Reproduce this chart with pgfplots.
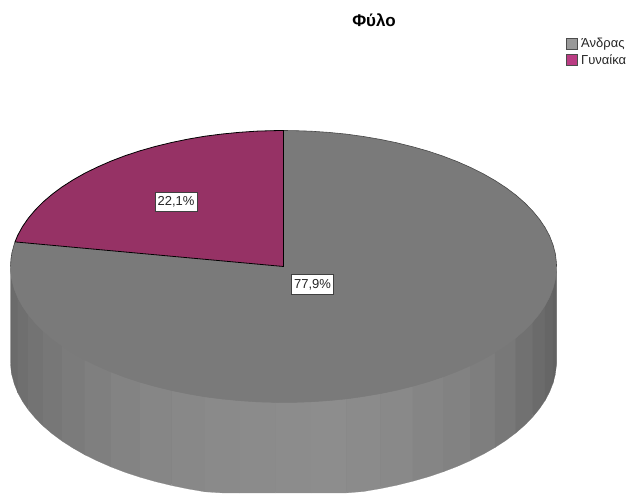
\documentclass[border=0pt]{standalone}
\usepackage{pgfplots}
\pgfplotsset{compat=1.18}
\usepackage{fontspec}
\setmainfont{Liberation Sans}

% one facet of the pie's outer wall:
% grey level; x, top y, bottom y at the left end; x, bottom y at the middle; x, top y, bottom y at the right end
\newcommand{\facet}[9]{%
  \definecolor{wall#1}{RGB}{#1,#1,#1}%
  \addplot[fill=wall#1,draw=wall#1,line width=0.2pt] coordinates {(#2,#3)(#7,#8)(#7,#9)(#5,#6)(#2,#4)} --cycle;%
}

\definecolor{topgrey}{RGB}{122,122,122}
\definecolor{slicepurple}{RGB}{150,50,101}
\definecolor{keygrey}{RGB}{153,153,153}
\definecolor{keypurple}{RGB}{186,60,131}
\definecolor{wallbase}{RGB}{125,125,125}

\begin{document}
\begin{tikzpicture}
\begin{axis}[
  scale only axis,
  width=628pt,
  height=493pt,
  xmin=0.5, xmax=628.5,
  ymin=0, ymax=493,
  y dir=reverse,
  hide axis,
  clip=false,
]
% page extent
\addplot[draw=none,fill=white] coordinates {(0.5,0)(628.5,0)(628.5,493)(0.5,493)} --cycle;

% solid backing under the wall facets
\addplot[fill=wallbase,draw=none] coordinates {
  (12,266.5)(556,266.5)(556,361.5)(554.8,374.4)(549.1,391)(538.8,408)(524.2,424.2)
  (505.4,439.4)(482.8,453.2)(456.8,465.4)(427.9,475.8)(396.4,484.2)(364,490.5)
  (353,492)(215,492)(188.6,487.9)(156,480.6)(126.6,471.3)(99,460)(74.5,447.1)
  (53.6,432.7)(36.7,417)(24,400.4)(15.8,383.1)(12.4,367.5)(12,361.5)
} --cycle;

% outer wall, left to right
\facet{104}{11.0}{266.5}{361.5}{11.4}{368.5}{12.4}{280.2}{375.2}
\facet{107}{12.4}{280.2}{375.2}{14.8}{384.1}{18.3}{297.8}{392.8}
\facet{111}{18.3}{297.8}{392.8}{23.0}{401.4}{28.8}{314.8}{409.8}
\facet{115}{28.8}{314.8}{409.8}{35.7}{418.0}{43.6}{331.0}{426.0}
\facet{119}{43.6}{331.0}{426.0}{52.6}{433.7}{62.6}{346.1}{441.1}
\facet{123}{62.6}{346.1}{441.1}{73.5}{448.1}{85.3}{359.8}{454.8}
\facet{127}{85.3}{359.8}{454.8}{98.0}{461.0}{111.5}{371.9}{466.9}
\facet{131}{111.5}{371.9}{466.9}{125.6}{472.3}{140.5}{382.2}{477.2}
\facet{134}{140.5}{382.2}{477.2}{156.0}{481.6}{172.1}{390.5}{485.5}
\facet{136}{172.1}{390.5}{485.5}{188.6}{488.9}{205.5}{396.8}{491.8}
\facet{138}{205.5}{396.8}{491.8}{222.8}{492.9}{240.3}{400.7}{492.9}
\facet{139}{240.3}{400.7}{492.9}{258.1}{492.9}{275.9}{402.4}{492.9}
\facet{140}{275.9}{402.4}{492.9}{293.8}{492.9}{311.6}{401.8}{492.9}
\facet{141}{311.6}{401.8}{492.9}{329.3}{492.9}{346.8}{398.9}{492.9}
\facet{139}{346.8}{398.9}{492.9}{364.0}{491.5}{380.9}{393.6}{488.6}
\facet{137}{380.9}{393.6}{488.6}{397.4}{485.2}{413.4}{386.2}{481.2}
\facet{133}{413.4}{386.2}{481.2}{428.9}{476.8}{443.7}{376.8}{471.8}
\facet{130}{443.7}{376.8}{471.8}{457.8}{466.4}{471.2}{365.5}{460.5}
\facet{126}{471.2}{365.5}{460.5}{483.8}{454.2}{495.5}{352.5}{447.5}
\facet{120}{495.5}{352.5}{447.5}{506.4}{440.4}{516.3}{338.0}{433.0}
\facet{113}{516.3}{338.0}{433.0}{525.2}{425.2}{533.0}{322.2}{417.2}
\facet{107}{533.0}{322.2}{417.2}{539.8}{409.0}{545.5}{305.6}{400.6}
\facet{102}{545.5}{305.6}{400.6}{550.1}{392.0}{553.5}{288.2}{383.2}
\facet{98}{553.5}{288.2}{383.2}{555.8}{374.4}{556.9}{270.5}{365.5}
\facet{96}{556.9}{270.5}{365.5}{557.0}{363.5}{557.0}{266.5}{361.5}

% Ανδρας slice, 77.9 %
\addplot[fill=topgrey,draw=none] coordinates {
  (284,266.5)(284,130.5)(293.8,130.6)(311.6,131.2)(329.3,132.4)(346.8,134.1)(364,136.5)
  (380.9,139.4)(397.4,142.8)(413.4,146.8)(428.9,151.2)(443.7,156.2)(457.8,161.6)
  (471.2,167.5)(483.8,173.8)(495.5,180.5)(506.4,187.6)(516.3,195)(525.2,202.8)
  (533,210.8)(539.8,219)(545.5,227.4)(550.1,236)(553.5,244.8)(555.8,253.6)(556.9,262.5)
  (557,266.5)(556.9,270.5)(555.8,279.4)(553.5,288.2)(550.1,297)(545.5,305.6)(539.8,314)
  (533,322.2)(525.2,330.2)(516.3,338)(506.4,345.4)(495.5,352.5)(483.8,359.2)(471.2,365.5)
  (457.8,371.4)(443.7,376.8)(428.9,381.8)(413.4,386.2)(397.4,390.2)(380.9,393.6)(364,396.5)
  (346.8,398.9)(329.3,400.6)(311.6,401.8)(293.8,402.4)(275.9,402.4)(258.1,401.9)(240.3,400.7)
  (222.8,399)(205.5,396.8)(188.6,393.9)(172.1,390.5)(156,386.6)(140.5,382.2)(125.6,377.3)
  (111.5,371.9)(98,366)(85.3,359.8)(73.5,353.1)(62.6,346.1)(52.6,338.7)(43.6,331)(35.7,323)
  (28.8,314.8)(23,306.4)(18.3,297.8)(14.8,289.1)(12.4,280.2)(11.4,273.5)(11,266.5)
  (11.4,259.5)(12.4,252.8)(14.8,243.9)(15.5,241.9)
} --cycle;

% lower rim, where the top meets the wall
\addplot[color=black!52,line width=0.4pt] coordinates {
  (557,266.5)(556.9,270.5)(555.8,279.4)(553.5,288.2)(550.1,297)(545.5,305.6)(539.8,314)
  (533,322.2)(525.2,330.2)(516.3,338)(506.4,345.4)(495.5,352.5)(483.8,359.2)(471.2,365.5)
  (457.8,371.4)(443.7,376.8)(428.9,381.8)(413.4,386.2)(397.4,390.2)(380.9,393.6)(364,396.5)
  (346.8,398.9)(329.3,400.6)(311.6,401.8)(293.8,402.4)(275.9,402.4)(258.1,401.9)(240.3,400.7)
  (222.8,399)(205.5,396.8)(188.6,393.9)(172.1,390.5)(156,386.6)(140.5,382.2)(125.6,377.3)
  (111.5,371.9)(98,366)(85.3,359.8)(73.5,353.1)(62.6,346.1)(52.6,338.7)(43.6,331)(35.7,323)
  (28.8,314.8)(23,306.4)(18.3,297.8)(14.8,289.1)(12.4,280.2)(11.4,273.5)(11,266.5)
};
% upper rim of the grey slice
\addplot[color=black!72,line width=0.6pt,line join=round] coordinates {
  (284,130.5)(293.8,130.6)(311.6,131.2)(329.3,132.4)(346.8,134.1)(364,136.5)
  (380.9,139.4)(397.4,142.8)(413.4,146.8)(428.9,151.2)(443.7,156.2)(457.8,161.6)
  (471.2,167.5)(483.8,173.8)(495.5,180.5)(506.4,187.6)(516.3,195)(525.2,202.8)
  (533,210.8)(539.8,219)(545.5,227.4)(550.1,236)(553.5,244.8)(555.8,253.6)(556.9,262.5)
  (557,266.5)
};
\addplot[color=black!72,line width=0.6pt,line join=round] coordinates {
  (15.5,241.9)(14.8,243.9)(12.4,252.8)(11.4,259.5)(11,266.5)
};

% Γυναίκα slice, 22.1 %
\addplot[fill=slicepurple,draw=black,line width=0.8pt,line join=round] coordinates {
  (284,266.5)(15.5,241.9)(18.3,235.2)(23,226.6)(28.8,218.2)(35.7,210)(43.6,202)(52.6,194.3)
  (62.6,186.9)(73.5,179.9)(85.3,173.2)(98,167)(111.5,161.1)(125.6,155.7)(140.5,150.8)
  (156,146.4)(172.1,142.5)(188.6,139.1)(205.5,136.2)(222.8,134)(240.3,132.3)(258.1,131.1)
  (275.9,130.6)(284,130.5)
} --cycle;

% legend keys
\addplot[fill=keygrey,draw=black!70,line width=0.9pt] coordinates {(566.5,38)(578,38)(578,49)(566.5,49)} --cycle;
\addplot[fill=keypurple,draw=black!70,line width=0.9pt] coordinates {(566.5,54)(578,54)(578,65)(566.5,65)} --cycle;

\node[anchor=center,font=\bfseries\fontsize{17}{19}\selectfont] at (axis cs:374.5,20) {Φύλο};
\node[anchor=west,inner sep=0pt,font=\fontsize{13}{15}\selectfont,text=black!85] at (axis cs:581.5,44) {Άνδρας};
\node[anchor=west,inner sep=0pt,font=\fontsize{13}{15}\selectfont,text=black!85] at (axis cs:581.5,60) {Γυναίκα};

\node[fill=white,draw=black!75,line width=1pt,inner sep=0pt,minimum width=42pt,minimum height=19.5pt,font=\fontsize{13}{15}\selectfont,text=black!85] at (axis cs:176.5,202) {22,1\%};
\node[fill=white,draw=black!75,line width=1pt,inner sep=0pt,minimum width=42pt,minimum height=20pt,font=\fontsize{13}{15}\selectfont,text=black!85] at (axis cs:313,284.5) {77,9\%};
\end{axis}
\end{tikzpicture}
\end{document}
